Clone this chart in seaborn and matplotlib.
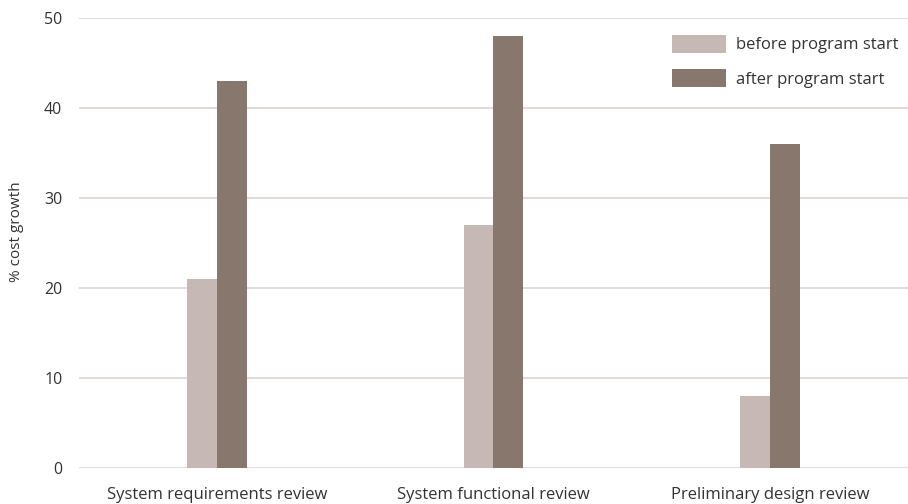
import matplotlib
matplotlib.use("Agg")
import matplotlib.pyplot as plt
import seaborn as sns
import pandas as pd
from matplotlib.patches import Patch

reviews = ["System requirements review", "System functional review", "Preliminary design review"]
series = ["before program start", "after program start"]
before_start = [21, 27, 8]
after_start = [43, 48, 36]
y_ticks = [0, 10, 20, 30, 40, 50]

light = "#c6b8b4"
dark = "#88776d"
grid_col = "#dccfcf"
text_col = "#333333"

df = pd.DataFrame({
    "review": reviews * 2,
    "series": [series[0]] * 3 + [series[1]] * 3,
    "value": before_start + after_start,
})

sns.set_theme(style="white")
plt.rcParams["font.family"] = ["Open Sans", "DejaVu Sans"]

fig = plt.figure(figsize=(9.08, 5.04), dpi=100)
ax = fig.add_axes([79 / 908, 36 / 504, 829 / 908, 450 / 504])

sns.barplot(data=df, x="review", y="value", hue="series", order=reviews,
            hue_order=series, palette=[light, dark], width=0.217,
            saturation=1, dodge=True, legend=False, ax=ax, zorder=3)
for p in ax.patches:
    p.set_linewidth(0)

ax.set_xlim(-0.5, 2.5)
ax.set_ylim(0, 50)
ax.set_yticks(y_ticks)
ax.set_yticklabels([str(t) for t in y_ticks], fontsize=11.5, color=text_col)
ax.tick_params(axis="x", labelsize=12, colors=text_col, length=0, pad=14)
ax.tick_params(axis="y", length=0, pad=12)
ax.yaxis.grid(True, color=grid_col, linewidth=1.1, zorder=0)
ax.set_axisbelow(True)
for s in ax.spines.values():
    s.set_visible(False)
ax.set_xlabel("")
ax.set_ylabel("% cost growth", fontsize=11, color=text_col)
ax.yaxis.set_label_coords(-0.066, 0.525)

handles = [Patch(facecolor=light, edgecolor="none"), Patch(facecolor=dark, edgecolor="none")]
leg = ax.legend(handles, series, loc="upper right", bbox_to_anchor=(1.0, 0.985),
                frameon=False, fontsize=12, handlelength=3.2, handleheight=1.3,
                labelspacing=0.95, handletextpad=0.6, borderaxespad=0.2)
for t in leg.get_texts():
    t.set_color(text_col)

fig.savefig("out.png", dpi=100)
